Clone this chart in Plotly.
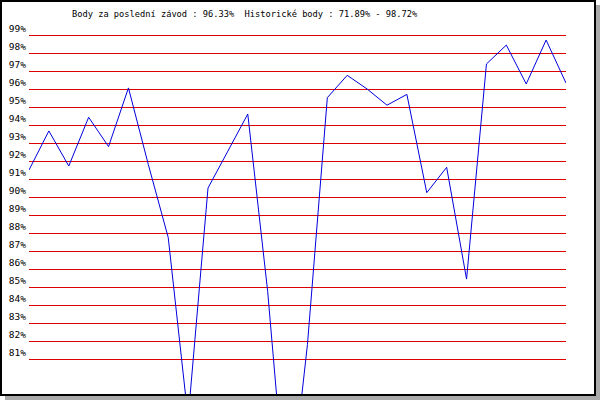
import plotly.graph_objects as go

# Data
race_index = list(range(28))
points_pct = [91.5, 93.67, 91.72, 94.43, 92.8, 96.06, 91.8, 87.75, 77.7, 90.5,
              92.55, 94.61, 84.76, 71.89, 81.8, 95.52, 96.76, 96.0, 95.1, 95.7,
              90.24, 91.65, 85.44, 97.39, 98.44, 96.28, 98.72, 96.33]
tick_values = list(range(81, 100))
tick_labels = [f"{v}%" for v in tick_values]
title_text = "Body za poslední závod : 96.33%  Historické body : 71.89% - 98.72%"

W, H = 600, 400
L, R, T, B = 29, 566, 20, 394  # plot area in pixels


def px(x):
    return (x - L) / (R - L)


def py(y):
    return (B - y) / (B - T)


def val_at(y):
    return 99 - (y - 35) / 18.0


fig = go.Figure()
fig.add_trace(go.Scatter(
    x=race_index, y=points_pct, mode="lines",
    line=dict(color="#0000dd", width=1), hoverinfo="skip", showlegend=False,
))

font_family = "DejaVu Sans Mono"

fig.update_layout(
    width=W, height=H,
    margin=dict(l=L, r=W - R, t=T, b=H - B, pad=0, autoexpand=False),
    paper_bgcolor="white", plot_bgcolor="white",
    showlegend=False,
    title=dict(text=title_text, xref="container", yref="container",
               x=72 / W, xanchor="left", y=1 - 13.5 / H, yanchor="middle",
               font=dict(family=font_family, size=8.7, color="black")),
    xaxis=dict(range=[0, 27], visible=False, fixedrange=True, automargin=False),
    yaxis=dict(range=[val_at(B), val_at(T)], tickvals=tick_values, ticktext=tick_labels,
               showgrid=True, gridcolor="#dd0000", gridwidth=1, zeroline=False,
               showline=False, ticks="", ticklabelshift=-6, ticklabelstandoff=2,
               automargin=False,
               tickfont=dict(family=font_family, size=9.5, color="black"),
               fixedrange=True),
)

shapes = [
    # shadow
    dict(type="rect", xref="paper", yref="paper", x0=px(596), x1=px(600), y0=py(400), y1=py(5),
         fillcolor="#aaaaaa", line=dict(width=0), layer="above"),
    dict(type="rect", xref="paper", yref="paper", x0=px(5), x1=px(600), y0=py(400), y1=py(396),
         fillcolor="#aaaaaa", line=dict(width=0), layer="above"),
    # frame
    dict(type="rect", xref="paper", yref="paper", x0=px(1), x1=px(595), y0=py(395), y1=py(1),
         line=dict(color="black", width=2), fillcolor="rgba(0,0,0,0)", layer="above"),
]
fig.update_layout(shapes=shapes)

post = ("document.body.style.margin='0';document.body.style.padding='0';"
        "document.documentElement.style.overflow='hidden';")
fig.write_html("out.html", config={"displayModeBar": False}, post_script=post)
